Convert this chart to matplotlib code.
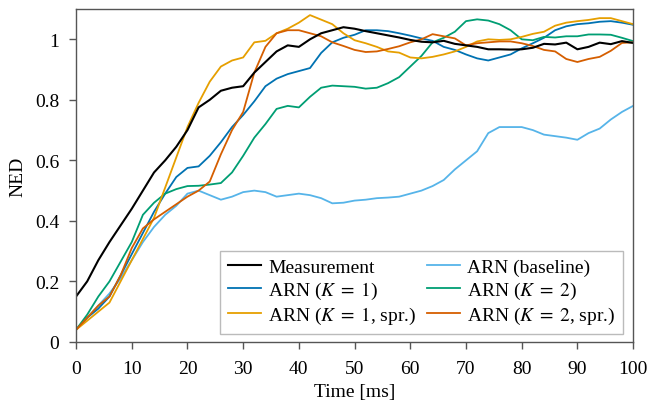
import matplotlib
matplotlib.use("Agg")
import matplotlib.pyplot as plt
import numpy as np

plt.rcParams['font.family'] = ['Liberation Serif', 'DejaVu Serif']
plt.rcParams['mathtext.fontset'] = 'stix'
plt.rcParams['font.size'] = 14

# time axis in ms, sampled every 2 ms
t = np.arange(0, 101, 2)

measurement = [0.15, 0.20, 0.27, 0.33, 0.385, 0.44, 0.50, 0.56, 0.60, 0.645,
               0.70, 0.775, 0.80, 0.83, 0.84, 0.845, 0.89, 0.925, 0.96, 0.98,
               0.975, 1.00, 1.02, 1.03, 1.04, 1.035, 1.027, 1.02, 1.013, 1.006,
               0.998, 0.992, 0.99, 0.995, 0.985, 0.98, 0.975, 0.967, 0.967, 0.966,
               0.967, 0.972, 0.985, 0.983, 0.989, 0.967, 0.975, 0.989, 0.984, 0.994,
               0.988]
baseline = [0.04, 0.08, 0.12, 0.16, 0.21, 0.27, 0.33, 0.38, 0.42, 0.45,
            0.49, 0.50, 0.485, 0.47, 0.48, 0.495, 0.50, 0.495, 0.48, 0.485,
            0.49, 0.485, 0.475, 0.458, 0.46, 0.467, 0.47, 0.475, 0.477, 0.48,
            0.49, 0.50, 0.515, 0.535, 0.57, 0.60, 0.63, 0.69, 0.71, 0.71,
            0.71, 0.70, 0.685, 0.68, 0.675, 0.668, 0.69, 0.705, 0.735, 0.76,
            0.78]
k1 = [0.04, 0.08, 0.11, 0.15, 0.22, 0.29, 0.36, 0.43, 0.49, 0.545,
      0.575, 0.58, 0.615, 0.66, 0.71, 0.75, 0.795, 0.845, 0.87, 0.885,
      0.895, 0.905, 0.955, 0.99, 1.005, 1.015, 1.03, 1.03, 1.027, 1.02,
      1.012, 1.003, 0.995, 0.975, 0.965, 0.95, 0.937, 0.93, 0.94, 0.95,
      0.97, 0.987, 1.005, 1.03, 1.043, 1.05, 1.053, 1.058, 1.06, 1.055,
      1.048]
k2 = [0.04, 0.09, 0.15, 0.20, 0.265, 0.33, 0.42, 0.46, 0.49, 0.505,
      0.515, 0.516, 0.52, 0.525, 0.56, 0.615, 0.675, 0.72, 0.77, 0.78,
      0.775, 0.81, 0.84, 0.847, 0.845, 0.843, 0.837, 0.84, 0.855, 0.875,
      0.91, 0.945, 0.99, 1.005, 1.025, 1.06, 1.066, 1.062, 1.05, 1.03,
      1.0, 0.997, 1.008, 1.006, 1.01, 1.01, 1.016, 1.016, 1.015, 1.005,
      0.994]
k1_spr = [0.04, 0.07, 0.10, 0.13, 0.20, 0.27, 0.34, 0.41, 0.51, 0.61,
          0.71, 0.79, 0.86, 0.91, 0.93, 0.94, 0.99, 0.995, 1.02, 1.035,
          1.055, 1.08, 1.065, 1.05, 1.02, 0.997, 0.987, 0.975, 0.96, 0.956,
          0.94, 0.937, 0.942, 0.95, 0.96, 0.975, 0.993, 1.0, 0.998, 1.0,
          1.008, 1.018, 1.025, 1.045, 1.055, 1.06, 1.064, 1.07, 1.07, 1.06,
          1.05]
k2_spr = [0.04, 0.08, 0.12, 0.15, 0.22, 0.31, 0.375, 0.405, 0.43, 0.455,
          0.48, 0.50, 0.53, 0.62, 0.70, 0.76, 0.89, 0.975, 1.02, 1.03,
          1.03, 1.02, 1.01, 0.99, 0.978, 0.965, 0.958, 0.96, 0.968, 0.977,
          0.99, 1.0, 1.017, 1.01, 1.003, 0.98, 0.987, 0.99, 0.993, 0.993,
          0.987, 0.978, 0.965, 0.96, 0.935, 0.925, 0.935, 0.942, 0.962, 0.988,
          0.99]

fig = plt.figure(figsize=(6.5, 4.02), dpi=100)
ax = fig.add_axes([0.117, 0.147, 0.857, 0.828])

lw = 1.3
h_base, = ax.plot(t, baseline, color='#56B4E9', lw=lw, label='ARN (baseline)')
h_k1, = ax.plot(t, k1, color='#0072B2', lw=lw, label=r'ARN ($K\;=\;1$)')
h_k2, = ax.plot(t, k2, color='#009E73', lw=lw, label=r'ARN ($K\;=\;2$)')
h_k1s, = ax.plot(t, k1_spr, color='#E69F00', lw=lw, label=r'ARN ($K\;=\;1$, spr.)')
h_k2s, = ax.plot(t, k2_spr, color='#D55E00', lw=lw, label=r'ARN ($K\;=\;2$, spr.)')
h_meas, = ax.plot(t, measurement, color='black', lw=1.5, label='Measurement')

ax.set_xlim(0, 100)
ax.set_ylim(0, 1.1)
ax.set_xticks(np.arange(0, 101, 10))
ax.set_yticks([0, 0.2, 0.4, 0.6, 0.8, 1.0])
ax.set_yticklabels(['0', '0.2', '0.4', '0.6', '0.8', '1'])
ax.set_xlabel('Time [ms]', labelpad=4)
ax.set_ylabel('NED', labelpad=6)

for sp in ax.spines.values():
    sp.set_color('#555555')
    sp.set_linewidth(1.0)
ax.tick_params(direction='out', length=5, width=1.0, color='#555555')
ax.tick_params(axis='x', pad=8)
ax.tick_params(axis='y', pad=7)

leg = ax.legend(handles=[h_meas, h_k1, h_k1s, h_base, h_k2, h_k2s],
                loc='lower right', ncol=2, fancybox=False,
                edgecolor='#bbbbbb', framealpha=1.0,
                handlelength=1.7, handletextpad=0.35, columnspacing=0.55,
                labelspacing=0.2, borderpad=0.4, borderaxespad=0.0,
                bbox_to_anchor=(0.982, 0.024))
leg.get_frame().set_linewidth(1.0)

fig.savefig('out.png', dpi=100)
